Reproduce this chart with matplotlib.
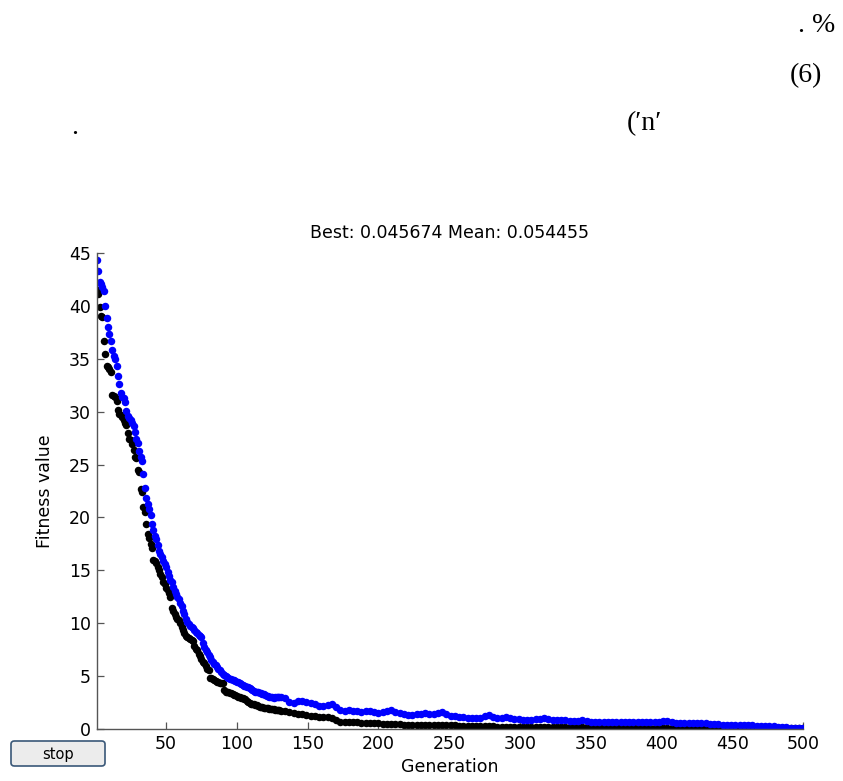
import numpy as np
import matplotlib
matplotlib.use('agg')
import matplotlib.pyplot as plt
from matplotlib.patches import FancyBboxPatch

# Generations 1..130, one value per generation
best_head = [41.5, 41.1, 39.9, 39.1, 39.0, 36.7, 35.5, 34.3, 34.2, 34.0,
             33.8, 31.6, 31.5, 31.4, 31.0, 30.2, 29.8, 29.7, 29.5, 29.2,
             28.9, 28.7, 28.0, 27.4, 27.3, 26.9, 26.4, 25.7, 25.6, 24.5,
             24.3, 22.7, 22.4, 21.0, 20.5, 19.4, 18.4, 18.0, 17.5, 17.1,
             16.0, 15.9, 15.7, 15.3, 15.0, 14.6, 14.3, 13.9, 13.7, 13.3,
             13.1, 12.8, 12.5, 11.4, 11.1, 10.8, 10.6, 10.4, 10.3, 10.0,
             9.6, 9.3, 9.0, 8.8, 8.7, 8.6, 8.5, 8.4, 8.3, 7.8,
             7.5, 7.4, 7.1, 6.9, 6.6, 6.3, 6.2, 5.9, 5.6, 5.5,
             4.8, 4.75, 4.7, 4.6, 4.5, 4.45, 4.4, 4.35, 4.3, 4.3,
             3.6, 3.5, 3.5, 3.45, 3.4, 3.35, 3.3, 3.2, 3.15, 3.05,
             3.0, 2.95, 2.9, 2.85, 2.8, 2.75, 2.65, 2.55, 2.45, 2.35,
             2.3, 2.28, 2.25, 2.22, 2.15, 2.08, 2.05, 2.0, 1.97, 1.94,
             1.92, 1.9, 1.86, 1.84, 1.82, 1.8, 1.78, 1.75, 1.73, 1.72]

mean_head = [44.4, 43.3, 42.3, 42.1, 41.8, 41.4, 40.0, 38.9, 38.0, 37.4,
             36.7, 35.8, 35.3, 35.0, 34.3, 33.4, 32.6, 31.8, 31.4, 31.3,
             30.9, 30.1, 29.6, 29.4, 29.2, 28.9, 28.6, 28.1, 27.4, 27.0,
             26.3, 25.7, 25.3, 24.1, 22.8, 21.8, 21.3, 20.8, 20.2, 19.4,
             18.8, 18.2, 17.9, 17.4, 16.8, 16.5, 16.2, 15.9, 15.6, 15.3,
             14.8, 14.4, 14.1, 13.9, 13.4, 13.0, 12.7, 12.5, 12.3, 11.9,
             11.6, 11.1, 10.8, 10.4, 10.1, 9.9, 9.7, 9.6, 9.5, 9.3,
             9.1, 9.0, 8.9, 8.8, 8.7, 8.1, 7.7, 7.4, 7.2, 7.0,
             6.8, 6.5, 6.3, 6.1, 6.0, 5.8, 5.6, 5.5, 5.35, 5.2,
             5.1, 4.95, 4.85, 4.75, 4.67, 4.65, 4.6, 4.55, 4.5, 4.45,
             4.4, 4.3, 4.25, 4.15, 4.05, 4.0, 3.95, 3.9, 3.8, 3.72,
             3.65, 3.58, 3.5, 3.48, 3.45, 3.4, 3.35, 3.3, 3.22, 3.17,
             3.12, 3.05, 3.0, 2.98, 2.95, 2.93, 2.95, 3.0, 3.0, 2.95]

# Generations 131..500, every 3rd generation (dots overlap into a band there)
best_tail = [1.70, 1.62, 1.52, 1.46, 1.40, 1.34, 1.26, 1.20, 1.16, 1.13,
             1.10, 1.07, 1.04, 0.78, 0.66, 0.63, 0.61, 0.59, 0.57, 0.56,
             0.55, 0.53, 0.51, 0.50, 0.42, 0.40, 0.39,
             0.38, 0.38, 0.37, 0.37, 0.37, 0.36, 0.36, 0.36, 0.35, 0.35,
             0.35, 0.34, 0.34, 0.34, 0.34,
             0.26, 0.25, 0.25, 0.25, 0.25, 0.24, 0.24, 0.24, 0.24,
             0.16, 0.16, 0.15, 0.15, 0.15, 0.15, 0.15, 0.15, 0.15, 0.15,
             0.15, 0.15, 0.14, 0.14, 0.14, 0.14, 0.14, 0.14, 0.14, 0.14,
             0.14, 0.14, 0.14, 0.14, 0.14, 0.13, 0.13, 0.13, 0.13, 0.13,
             0.13, 0.13, 0.13,
             0.09, 0.09, 0.09, 0.09, 0.09, 0.09, 0.08, 0.08, 0.08, 0.08,
             0.08, 0.08, 0.08, 0.08, 0.08, 0.08, 0.07, 0.07, 0.07, 0.07,
             0.07, 0.07, 0.07, 0.07, 0.06, 0.06, 0.06, 0.06, 0.06, 0.06,
             0.06, 0.06, 0.05, 0.05, 0.05, 0.05, 0.05, 0.05, 0.05, 0.046]

mean_tail = [2.95, 2.85, 2.55, 2.45, 2.6, 2.65, 2.55, 2.4, 2.35, 2.15,
             2.1, 2.25, 2.3, 2.0, 1.75, 1.7, 1.75, 1.7, 1.65, 1.6,
             1.65, 1.68, 1.6, 1.5, 1.55, 1.7, 1.72, 1.55, 1.5, 1.4,
             1.3, 1.3, 1.38, 1.42, 1.44, 1.4, 1.42, 1.48, 1.52, 1.35,
             1.2, 1.15, 1.12, 1.08, 1.0, 0.97, 1.0, 1.02, 1.2, 1.25,
             1.05, 0.97, 1.0, 1.06, 1.0, 0.92, 0.88, 0.82, 0.78, 0.8,
             0.88, 0.92, 0.97, 0.92, 0.85, 0.8, 0.78, 0.8, 0.75, 0.73,
             0.75, 0.76, 0.7, 0.65, 0.62, 0.6, 0.62, 0.6, 0.63, 0.64,
             0.62, 0.6, 0.62, 0.6, 0.58, 0.6, 0.62, 0.6, 0.58, 0.6,
             0.68, 0.72, 0.62, 0.55, 0.5, 0.52, 0.5, 0.48, 0.5, 0.5,
             0.48, 0.47, 0.45, 0.42, 0.34, 0.32, 0.3, 0.3, 0.3, 0.3,
             0.3, 0.29, 0.28, 0.28, 0.28, 0.27, 0.25, 0.15, 0.12, 0.1,
             0.08, 0.07, 0.06, 0.054]

gen_head = np.arange(1, 131)
gen_tail = np.arange(131, 501, 3)

generations = np.concatenate([gen_head, gen_tail])
best = np.array(best_head + best_tail)
mean = np.array(mean_head + mean_tail)

title = 'Best: 0.045674 Mean: 0.054455'

fig = plt.figure(figsize=(8.43, 7.81), dpi=100)
fig.patch.set_facecolor('white')

# text fragments of the surrounding document
serif = ['Liberation Serif', 'DejaVu Serif']
fig.text(835/843., 1-25/781., '. %', family=serif, fontsize=20, ha='right', va='center')
fig.text(822/843., 1-76/781., '(6)', family=serif, fontsize=20, ha='right', va='center')
fig.text(627/843., 1-124/781., '(\u2032n\u2032', family=serif, fontsize=20, ha='left', va='center')
fig.text(75/843., 1-127/781., '.', family=serif, fontsize=20, ha='center', va='center')

ax = fig.add_axes([96.7/843., 1-728.5/781., (803.3-96.7)/843., (728.5-253.3)/781.])
ax.plot(generations, best, 'o', color='black', markersize=5.4, markeredgewidth=0)
ax.plot(generations, mean, 'o', color='#0000ff', markersize=5.4, markeredgewidth=0)

ax.set_xlim(1, 500)
ax.set_ylim(0, 45)
ax.set_xticks(np.arange(50, 501, 50))
ax.set_yticks(np.arange(0, 46, 5))
for s in ['top', 'right']:
    ax.spines[s].set_visible(False)
for s in ['left', 'bottom']:
    ax.spines[s].set_color('#555555')
    ax.spines[s].set_linewidth(1.0)
ax.tick_params(direction='in', length=5, width=0.9, color='#555555',
               labelsize=12.5, labelcolor='black')
ax.tick_params(axis='x', pad=5)
ax.tick_params(axis='y', pad=4)
for lbl in ax.get_xticklabels() + ax.get_yticklabels():
    lbl.set_family('DejaVu Sans')
ax.set_title(title, fontsize=12.5, family='DejaVu Sans', pad=11)
ax.set_xlabel('Generation', fontsize=12.5, family='DejaVu Sans', labelpad=3)
ax.set_ylabel('Fitness value', fontsize=12.5, family='DejaVu Sans', labelpad=11)
ax.patch.set_alpha(0)

# "stop" button in the lower left corner
btn = FancyBboxPatch((11/843., 1-766/781.), 94/843., 25/781.,
                     boxstyle='round,pad=0,rounding_size=0.004',
                     transform=fig.transFigure, facecolor='#ececec',
                     edgecolor='#3a5878', linewidth=1.2)
fig.patches.append(btn)
fig.text(58/843., 1-754/781., 'stop', fontsize=10.5, family='DejaVu Sans',
         ha='center', va='center')

fig.savefig('out.png', dpi=100)
